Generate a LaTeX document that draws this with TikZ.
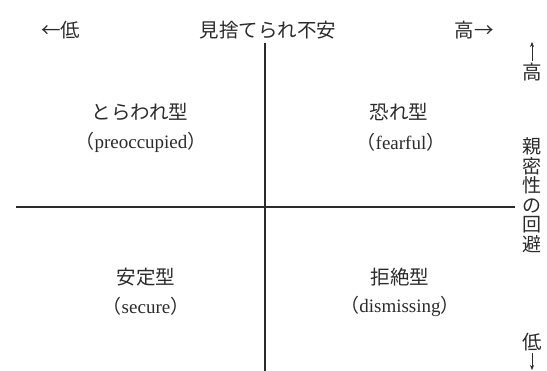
\documentclass[tikz,border=0pt]{standalone}
\usepackage{fontspec}
\setmainfont{Liberation Serif}
\newfontfamily\jp{Noto Sans CJK JP}
\usetikzlibrary{arrows.meta}
\definecolor{ink}{HTML}{2B2B2B}
\tikzset{
  jtext/.style={font=\jp\fontsize{19.5}{20}\selectfont, text=ink, inner sep=0pt},
  etext/.style={font=\fontsize{19}{20}\selectfont, text=ink, inner sep=0pt},
  axis/.style={draw=ink, line width=1.1pt},
  tick/.style={draw=ink, line width=0.7pt, -{Stealth[length=5pt,width=4pt]}}
}
\begin{document}
\begin{tikzpicture}[x=1pt,y=1pt]
\useasboundingbox (0,0) rectangle (547,371);
% axes
\coordinate (vt) at (265,328);
\coordinate (vb) at (265,0);
\coordinate (hl) at (16,164);
\coordinate (hr) at (515,164);
\draw[axis] (vt) -- (vb);
\draw[axis] (hl) -- (hr);
% header
\node[jtext] (lo) at (61,341) {←低};
\node[jtext] (title) at (268,341) {見捨てられ不安};
\node[jtext] (hi) at (474,341) {高→};
% quadrants
\node[jtext] (q1a) at (140,259) {とらわれ型};
\node[etext] (q1b) at (141,229) {{\jp（}preoccupied{\jp）}};
\node[jtext] (q2a) at (399,259) {恐れ型};
\node[etext] (q2b) at (401,229) {{\jp（}fearful{\jp）}};
\node[jtext] (q3a) at (146,94) {安定型};
\node[etext] (q3b) at (146,65) {{\jp（}secure{\jp）}};
\node[jtext] (q4a) at (400,94) {拒絶型};
\node[etext] (q4b) at (400,65) {{\jp（}dismissing{\jp）}};
% right column
\node[jtext] (rhi) at (532,299) {高};
\coordinate (rhitop) at (532,329);
\draw[tick] (rhi.north) ++(0,2) coordinate (rhs) -- (rhitop);
\node[jtext, align=center, font=\jp\fontsize{19}{19.5}\selectfont] (rlab) at (532,176) {親\\密\\性\\の\\回\\避};
\node[jtext] (rlo) at (532,29) {低};
\coordinate (rlobot) at (532,1);
\draw[tick] (rlo.south) ++(0,-2) coordinate (rls) -- (rlobot);
\end{tikzpicture}
\end{document}
